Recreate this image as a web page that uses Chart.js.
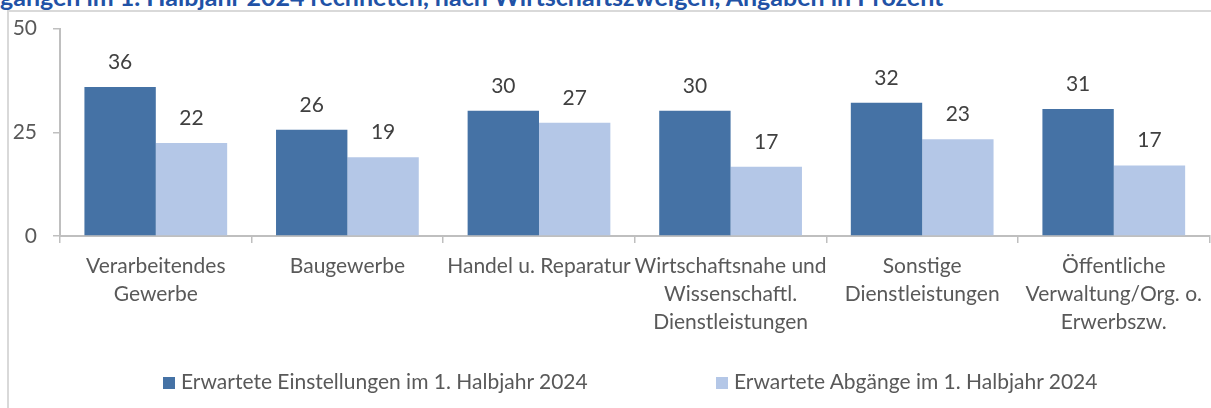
<!DOCTYPE html>
<html>
<head>
<meta charset="utf-8">
<script src="https://cdn.jsdelivr.net/npm/chart.js@4.4.1/dist/chart.umd.min.js"></script>
<style>
  body { margin: 0; background: #fff; }
  #wrap { position: relative; width: 1211px; height: 408px; overflow: hidden; font-family: Lato, sans-serif; }
  .title { position: absolute; left: 0; top: -16px; white-space: nowrap; font: bold 25px/25px Lato, sans-serif; color: #2152a6; }
  .frame { position: absolute; left: 7px; top: 10px; right: -5px; bottom: -5px; border-left: 2px solid #d9d9d9; border-top: 2px solid #d9d9d9; }
  canvas { position: absolute; left: 0; top: 0; }
  .legend { position: absolute; top: 369px; left: 0; width: 1211px; height: 24px; font-size: 21px; color: #595959; }
  .legend span.item { position: absolute; top: 0; white-space: nowrap; line-height: 24px; }
  .legend i { display: inline-block; width: 12px; height: 12px; margin-right: 6px; }
</style>
</head>
<body>
<div id="wrap">
  <div class="title">gängen im 1. Halbjahr 2024 rechneten, nach Wirtschaftszweigen, Angaben in Prozent</div>
  <div class="frame"></div>
  <canvas id="chart" width="1211" height="408"></canvas>
  <div class="legend" id="legend"></div>
</div>
<script>
const categories = [
  ['Verarbeitendes', 'Gewerbe'],
  'Baugewerbe',
  'Handel u. Reparatur',
  ['Wirtschaftsnahe und', 'Wissenschaftl.', 'Dienstleistungen'],
  ['Sonstige', 'Dienstleistungen'],
  ['Öffentliche', 'Verwaltung/Org. o.', 'Erwerbszw.']
];
const einstellungen = [35.9, 25.6, 30.2, 30.2, 32.1, 30.6];
const abgaenge = [22.4, 19.0, 27.3, 16.7, 23.3, 17.0];
const seriesNames = ['Erwartete Einstellungen im 1. Halbjahr 2024', 'Erwartete Abgänge im 1. Halbjahr 2024'];
const yTicks = [0, 25, 50];

const colors = ['#4572a5', '#b4c7e7'];
const axisColor = '#bfbfbf';
const textColor = '#595959';

// draws the rounded values above each bar
const valueLabels = {
  id: 'valueLabels',
  afterDatasetsDraw(chart) {
    const ctx = chart.ctx;
    ctx.save();
    ctx.font = '21px Lato';
    ctx.fillStyle = '#404040';
    ctx.textAlign = 'center';
    ctx.textBaseline = 'alphabetic';
    chart.data.datasets.forEach((ds, i) => {
      chart.getDatasetMeta(i).data.forEach((bar, j) => {
        ctx.fillText(Math.round(ds.data[j]), bar.x, bar.y - 18);
      });
    });
    ctx.restore();
  }
};

new Chart(document.getElementById('chart'), {
  type: 'bar',
  data: {
    labels: categories,
    datasets: [
      { label: seriesNames[0], data: einstellungen, backgroundColor: colors[0] },
      { label: seriesNames[1], data: abgaenge, backgroundColor: colors[1] }
    ]
  },
  options: {
    responsive: false,
    animation: false,
    layout: { padding: { top: 26, right: 0, left: 0, bottom: 0 } },
    categoryPercentage: 0.745,
    barPercentage: 1.0,
    plugins: { legend: { display: false }, tooltip: { enabled: false } },
    scales: {
      x: {
        grid: { offset: true, drawOnChartArea: false, drawTicks: true, tickLength: 7, color: axisColor, lineWidth: 1.5 },
        border: { color: axisColor, width: 2 },
        ticks: { color: textColor, font: { family: 'Lato', size: 21, lineHeight: 1.33 }, padding: 9, autoSkip: false, maxRotation: 0 },
        afterFit: s => { s.height = 172; }
      },
      y: {
        min: 0, max: 50,
        afterBuildTicks: s => { s.ticks = yTicks.map(v => ({ value: v })); },
        grid: { drawOnChartArea: false, drawTicks: true, tickLength: 7, color: axisColor, lineWidth: 1.5 },
        border: { color: axisColor, width: 2 },
        ticks: { color: textColor, font: { family: 'Lato', size: 21 }, padding: 16 },
        afterFit: s => { s.width = 60; }
      }
    }
  },
  plugins: [valueLabels]
});

// legend below the chart, placed like the original
const legendX = [163, 716];
const legend = document.getElementById('legend');
seriesNames.forEach((name, i) => {
  const it = document.createElement('span');
  it.className = 'item';
  it.style.left = legendX[i] + 'px';
  it.innerHTML = '<i style="background:' + colors[i] + '"></i>' + name;
  legend.appendChild(it);
});
</script>
</body>
</html>
